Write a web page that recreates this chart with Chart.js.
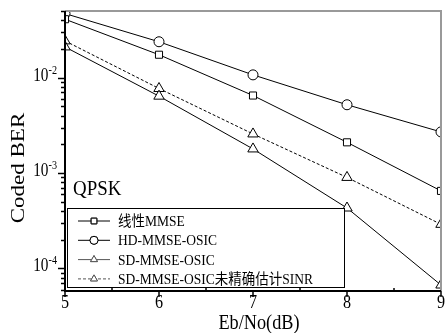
<!DOCTYPE html>
<html>
<head>
<meta charset="utf-8">
<script src="https://cdn.jsdelivr.net/npm/chart.js@4/dist/chart.umd.min.js"></script>
<style>
  html, body { margin: 0; padding: 0; background: #fff; }
  #wrap { width: 448px; height: 333px; }
</style>
</head>
<body>
<div id="wrap"><canvas id="myChart"></canvas></div>
<script>
let snr = [5, 6, 7, 8, 9];
let labels = ['线性MMSE', 'HD-MMSE-OSIC', 'SD-MMSE-OSIC', 'SD-MMSE-OSIC未精确估计SINR'];
let berLinear = [0.041, 0.0174, 0.0065, 0.0021, 0.00065];
let berHD = [0.047, 0.0238, 0.0107, 0.0052, 0.0027];
let berSD = [0.021, 0.0064, 0.00179, 0.00043, 0.000067];
let berSDnoSINR = [0.0243, 0.0077, 0.00257, 0.0009, 0.00029];
let yMajor = [1e-2, 1e-3, 1e-4];
let xTicks = [5, 6, 7, 8, 9];

const serif = '"Liberation Serif", "Noto Sans CJK SC", serif';

function pts(arr) {
  return arr.map((v, i) => ({ x: snr[i], y: v }));
}

function mkSet(label, data, shape, dash) {
  return {
    label: label,
    data: pts(data),
    borderColor: '#000',
    borderWidth: 1,
    borderDash: dash || [],
    pointStyle: shape,
    pointRadius: shape === 'triangle' ? 6 : 5,
    pointBackgroundColor: '#fff',
    pointBorderColor: '#000',
    pointBorderWidth: 1,
    tension: 0
  };
}

// text squeezed horizontally like the source image
function txt(ctx, s, x, y, size, sx, align, base, rot) {
  ctx.save();
  ctx.translate(x, y);
  if (rot) {
    ctx.rotate(rot);
    ctx.scale(1, sx);
  } else {
    ctx.scale(sx, 1);
  }
  ctx.font = size + 'px ' + serif;
  ctx.textAlign = align;
  ctx.textBaseline = base;
  ctx.fillStyle = '#000';
  ctx.fillText(s, 0, 0);
  const w = ctx.measureText(s).width * sx;
  ctx.restore();
  return w;
}

const decor = {
  id: 'decor',
  afterDatasetsDraw(chart) {
    const ctx = chart.ctx;
    // legend box
    const bx = 67, by = 208, bw = 277, bh = 79;
    ctx.save();
    ctx.fillStyle = '#fff';
    ctx.fillRect(bx, by, bw, bh);
    ctx.strokeStyle = '#000';
    ctx.lineWidth = 1;
    ctx.strokeRect(bx + 0.5, by + 0.5, bw, bh);
    chart.data.datasets.forEach((ds, i) => {
      const y = 221 + i * 19.3;
      ctx.strokeStyle = i >= 2 ? '#555' : '#000';
      ctx.setLineDash(ds.borderDash);
      ctx.beginPath();
      ctx.moveTo(78, y);
      ctx.lineTo(110, y);
      ctx.stroke();
      ctx.setLineDash([]);
      Chart.helpers.drawPoint(ctx, {
        pointStyle: ds.pointStyle,
        radius: 4,
        borderWidth: 1
      }, 94, y);
      ctx.fillStyle = '#fff';
      ctx.fill();
      ctx.stroke();
      txt(ctx, ds.label, 118, y + 1, 15, 0.9, 'left', 'middle');
    });
    txt(ctx, 'QPSK', 73, 189, 21, 0.9, 'left', 'middle');
    ctx.restore();
  },
  afterDraw(chart) {
    const ctx = chart.ctx;
    const a = chart.chartArea;
    const xs = chart.scales.x, ys = chart.scales.y;
    ctx.save();
    // gray frame top / right
    ctx.strokeStyle = '#999';
    ctx.lineWidth = 2;
    ctx.beginPath();
    ctx.moveTo(a.left, a.top);
    ctx.lineTo(a.right, a.top);
    ctx.lineTo(a.right, a.bottom);
    ctx.stroke();
    // black axes
    ctx.strokeStyle = '#000';
    ctx.lineWidth = 2;
    ctx.beginPath();
    ctx.moveTo(a.left, a.top);
    ctx.lineTo(a.left, a.bottom);
    ctx.lineTo(a.right, a.bottom);
    ctx.stroke();
    // y ticks
    ctx.lineWidth = 1.5;
    for (let e = -5; e <= -1; e++) {
      for (let m = 1; m <= 9; m++) {
        const v = m * Math.pow(10, e);
        if (v < ys.min || v > ys.max) continue;
        const py = Math.round(ys.getPixelForValue(v)) + 0.5;
        const len = m === 1 ? 7 : 4;
        ctx.beginPath();
        ctx.moveTo(a.left - len, py);
        ctx.lineTo(a.left, py);
        ctx.stroke();
      }
    }
    // y labels 10^-n
    yMajor.forEach(v => {
      const py = ys.getPixelForValue(v);
      const exp = '-' + Math.round(-Math.log10(v));
      const ew = txt(ctx, exp, 57, py - 4, 12, 0.85, 'right', 'alphabetic');
      txt(ctx, '10', 57 - ew, py + 3, 18, 0.85, 'right', 'alphabetic');
    });
    // x ticks
    for (let v = 5; v <= 9.001; v += 0.5) {
      const px = Math.round(xs.getPixelForValue(v));
      const major = Math.abs(v - Math.round(v)) < 1e-6;
      ctx.beginPath();
      if (major) {
        ctx.moveTo(px, a.bottom);
        ctx.lineTo(px, a.bottom + 6);
      } else {
        ctx.moveTo(px, a.bottom - 3);
        ctx.lineTo(px, a.bottom);
      }
      ctx.stroke();
    }
    xTicks.forEach(v => {
      txt(ctx, String(v), xs.getPixelForValue(v), a.bottom + 12, 19, 0.85, 'center', 'middle');
    });
    // axis titles
    txt(ctx, 'Eb/No(dB)', 259, 323, 22, 0.83, 'center', 'middle');
    txt(ctx, 'Coded BER', 19, 168, 23, 0.85, 'center', 'middle', -Math.PI / 2);
    ctx.restore();
  }
};

new Chart(document.getElementById('myChart'), {
  type: 'line',
  data: {
    datasets: [
      mkSet(labels[0], berLinear, 'rect'),
      mkSet(labels[1], berHD, 'circle'),
      mkSet(labels[2], berSD, 'triangle'),
      mkSet(labels[3], berSDnoSINR, 'triangle', [3, 2])
    ]
  },
  options: {
    responsive: true,
    maintainAspectRatio: false,
    animation: false,
    events: [],
    layout: { padding: { top: 11, right: 6, left: 0, bottom: 0 } },
    plugins: {
      legend: { display: false },
      tooltip: { enabled: false }
    },
    scales: {
      x: {
        type: 'linear',
        min: 5,
        max: 9,
        grid: { display: false },
        border: { display: false },
        ticks: { display: false, stepSize: 1 },
        afterFit: s => { s.height = 42; }
      },
      y: {
        type: 'logarithmic',
        min: 0.000058,
        max: 0.05,
        grid: { display: false },
        border: { display: false },
        ticks: { display: false },
        afterFit: s => { s.width = 65; }
      }
    }
  },
  plugins: [decor]
});
</script>
</body>
</html>
